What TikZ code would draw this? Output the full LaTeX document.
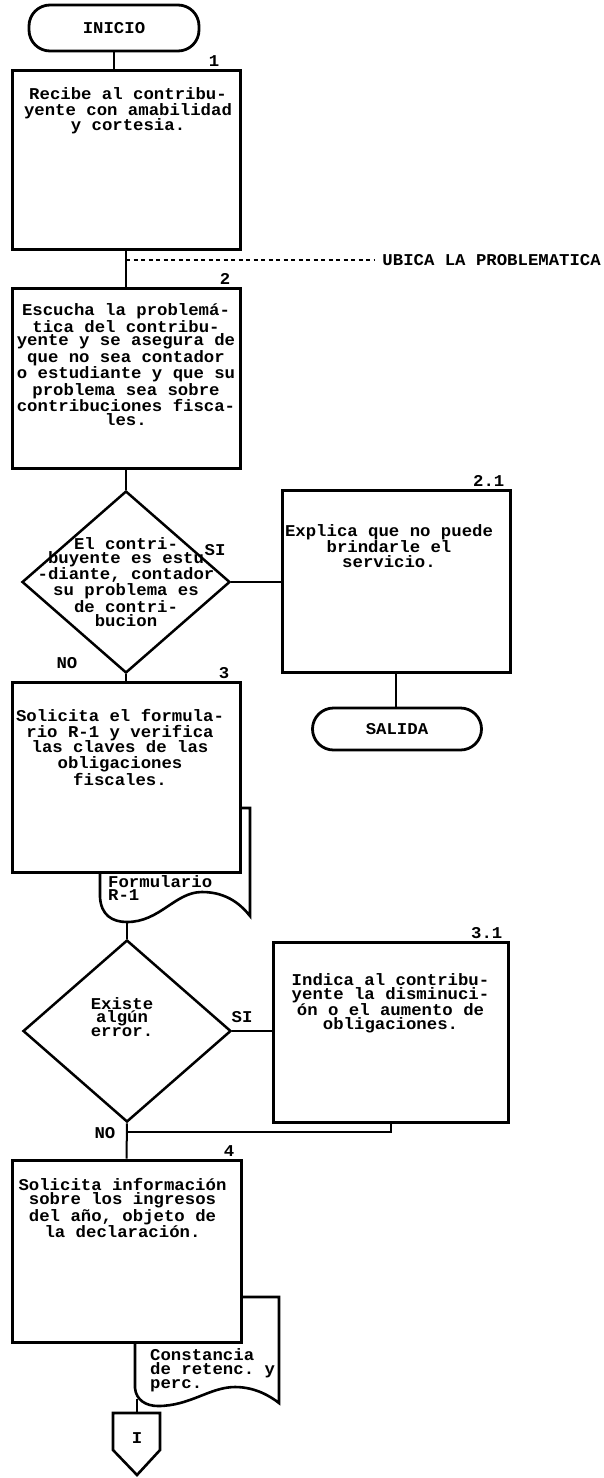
\documentclass[tikz,border=0pt]{standalone}
\usepackage{fontspec}
\setmonofont[FakeStretch=1.05]{Liberation Mono}
\usetikzlibrary{positioning, shapes.geometric}

\begin{document}
\begin{tikzpicture}[x=1pt, y=-1pt,
	txt/.style={font=\ttfamily\bfseries\fontsize{16.5}{13.8}\selectfont, align=center, inner sep=0pt},
	txtan/.style={txt, font=\ttfamily\bfseries\fontsize{16.5}{15.5}\selectfont},
	caja/.style={draw, line width=3pt, fill=white, minimum width=228pt, inner sep=0pt},
	term/.style={draw, line width=2.8pt, rounded corners=21pt, txt},
	rombo/.style={draw, diamond, line width=2.5pt, minimum width=208pt, minimum height=182pt, inner sep=0pt},
	doc/.style={draw, line width=2.6pt, fill=white},
	lin/.style={line width=2pt},
	num/.style={txt}]
		\useasboundingbox (0,0) rectangle (604,1478);

		\node[term, minimum width=170pt, minimum height=46pt] (ini) at (114,28) {INICIO};
		\node[caja, minimum height=179pt] (b1) at (126,159.5) {};
		\node[txtan, below=19pt of b1.north, xshift=2pt] (t1) {Recibe al contribu-\\yente con amabilidad\\y cortesia.};
		\node[num, above left=2pt and 22pt of b1.north east] (n1) {1};
		\draw[lin] (ini.south) -- (ini.south |- b1.north);

		\node[caja, minimum height=180pt] (b2) at (126,378) {};
		\node[txt, below=17pt of b2.north] (t2) {Escucha la problemá-\\tica del contribu-\\yente y se asegura de\\que no sea contador\\o estudiante y que su\\problema sea sobre\\contribuciones fisca-\\les.};
		\node[num, above left=2pt and 11pt of b2.north east] (n2) {2};
		\draw[lin] (b1.south) -- (b2.north);
		\coordinate (ub) at (126,260);
		\node[txt, anchor=east] (ubtxt) at (601,260) {UBICA LA PROBLEMATICA};
		\draw[line width=1.5pt, dash pattern=on 4pt off 3.5pt] (ub) -- ([xshift=-8pt]ubtxt.west);

		\node[rombo] (d1) at (126,582) {};
		\node[txt] (td1) at (d1.center) {El contri-\\buyente es estu\\-diante, contador\\su problema es\\de contri-\\bucion};
		\node[txt] (si1) at (215,550) {SI};
		\node[txt] (no1) at (67,663) {NO};
		\draw[lin] (b2.south) -- (d1.north);

		\node[caja, minimum height=182pt] (b21) at (396,581) {};
		\node[txtan, below=36pt of b21.north, xshift=-7pt] (t21) {Explica que no puede\\brindarle el\\servicio.};
		\node[num, above left=2pt and 7pt of b21.north east] (n21) {2.1};
		\draw[lin] (d1.east) -- (d1.east -| b21.west);
		\node[term, minimum width=169pt, minimum height=42pt] (sal) at (397,729) {SALIDA};
		\draw[lin] (b21.south) -- (b21.south |- sal.north);

		\draw[doc] (100,808) -- (100,897) .. controls (101,915) and (112,922) .. (127,922) .. controls (160,922) and (175,892) .. (202,892) .. controls (228,892) and (242,906) .. (250,916) -- (250,808) -- cycle;
		\coordinate (f1) at (127,922);
		\node[caja, minimum height=190pt] (b3) at (126,777) {};
		\node[txtan, below=29pt of b3.north, xshift=-6pt] (t3) {Solicita el formula-\\rio R-1 y verifica\\las claves de las\\obligaciones\\fiscales.};
		\node[num, above left=2pt and 12pt of b3.north east] (n3) {3};
		\node[txt, align=left, anchor=west] (td3) at (108,888) {Formulario\\R-1};
		\draw[lin] (d1.south) -- (b3.north);

		\node[rombo] (d2) at (127,1031) {};
		\node[txt] (td2) at ([xshift=-5pt, yshift=14pt]d2.center) {Existe\\algún\\error.};
		\node[txt] (si2) at (242,1017) {SI};
		\node[txt] (no2) at (105,1133) {NO};
		\draw[lin] (f1) -- (d2.north);
		\node[caja, minimum width=235pt, minimum height=180pt] (b31) at (390.5,1032) {};
		\node[txt, below=33pt of b31.north] (t31) {Indica al contribu-\\yente la disminuci-\\ón o el aumento de\\obligaciones.};
		\node[num, above left=2pt and 7pt of b31.north east] (n31) {3.1};
		\draw[lin] (d2.east) -- (d2.east -| b31.west);
		\coordinate (r1) at (127,1132);
		\draw[lin] (b31.south) |- (r1);

		\draw[doc] (135,1297) -- (135,1388) .. controls (136,1400) and (146,1406) .. (158,1406) .. controls (190,1406) and (210,1387) .. (235,1387) .. controls (255,1387) and (270,1396) .. (279,1403) -- (279,1297) -- cycle;
		\node[caja, minimum width=229pt, minimum height=182pt] (b4) at (126.5,1251) {};
		\node[txt, below=20pt of b4.north, xshift=-4pt] (t4) {Solicita información\\sobre los ingresos\\del año, objeto de\\la declaración.};
		\node[num, above left=2pt and 8pt of b4.north east] (n4) {4};
		\node[txt, align=left, anchor=west] (td4) at (150,1370) {Constancia\\de retenc. y\\perc.};
		\draw[lin] (d2.south) -- (b4.north);

		\draw[doc] (113,1413) -- (160,1413) -- (160,1450) -- (137,1475) -- (113,1450) -- cycle;
		\node[txt] (pag) at (137,1438) {I};
		\coordinate (f2) at (137,1399);
		\coordinate (pagtop) at (137,1413);
		\draw[lin] (f2) -- (pagtop);
	\end{tikzpicture}
\end{document}
